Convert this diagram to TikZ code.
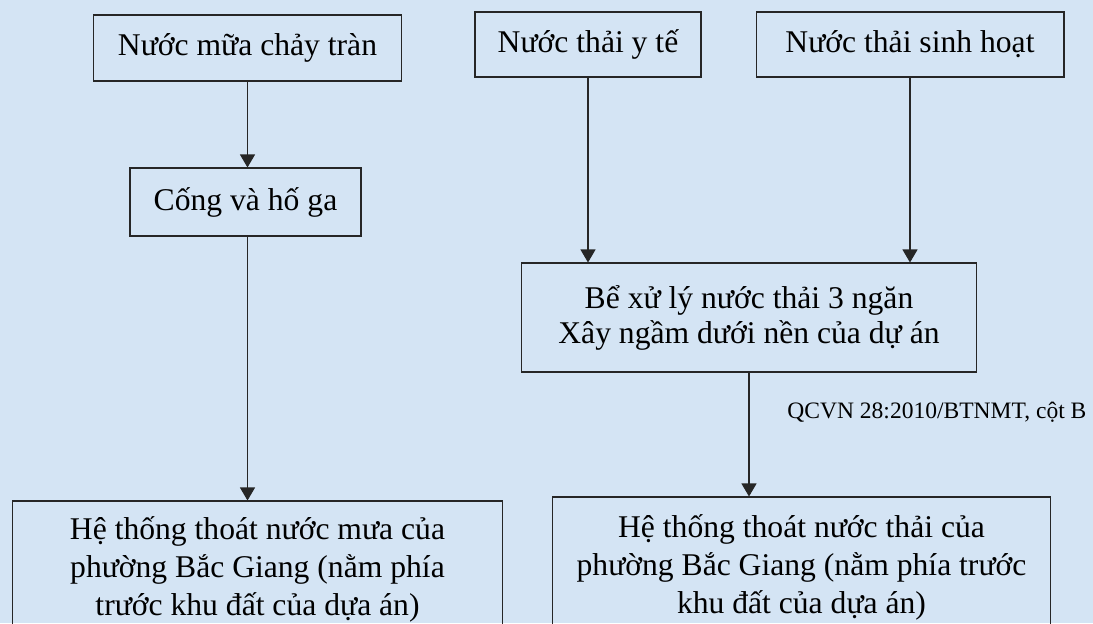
\documentclass[tikz,border=0pt]{standalone}
\usepackage{fontspec}
\setmainfont{Liberation Serif}
\usepackage{tikz}
\usetikzlibrary{arrows.meta}
\definecolor{paleblue}{RGB}{212,228,244}

\begin{document}
\begin{tikzpicture}[x=0.02cm, y=-0.02cm,
    every node/.style={font=\fontsize{18}{22}\selectfont},
    box/.style={draw=black!85, line width=0.6pt, align=center, inner sep=0pt},
    flow/.style={draw=black!85, line width=0.6pt, -{Triangle[width=0.3cm,length=0.26cm]}}]

                % Background
                \useasboundingbox (0,0) rectangle (1093,623);
                \fill[paleblue] (0,0) rectangle (1093,623);
                \clip (0,0) rectangle (1093,623);

                % Nodes
                \node at (247.5,48) (rain) [box, minimum width=6.18cm, minimum height=1.32cm] {Nước mữa chảy tràn};
                \node at (245.5,202) (cong) [box, minimum width=4.62cm, minimum height=1.36cm] {Cống và hố ga};
                \node at (588,44.5) (yte) [box, minimum width=4.52cm, minimum height=1.3cm] {Nước thải y tế};
                \node at (910,44.5) (sinhhoat) [box, minimum width=6.16cm, minimum height=1.3cm] {Nước thải sinh hoạt};
                \node at (749,317.5) (be) [box, minimum width=9.12cm, minimum height=2.18cm,
                    font=\fontsize{18}{19.9}\selectfont] {Bể xử lý nước thải 3 ngăn\\Xây ngầm dưới nền của dự án};
                \node at (257.5,569) (mua) [box, minimum width=9.82cm, minimum height=2.72cm,
                    font=\fontsize{18}{21.6}\selectfont] {Hệ thống thoát nước mưa của\\phường Bắc Giang (nằm phía\\trước khu đất của dựa án)};
                \node at (801.5,567) (thai) [box, minimum width=9.98cm, minimum height=2.8cm,
                    font=\fontsize{18}{21.6}\selectfont] {Hệ thống thoát nước thải của\\phường Bắc Giang (nằm phía trước\\khu đất của dựa án)};
                \node at (787,418) (qcvn) [anchor=base west, inner sep=0pt, font=\fontsize{13.4}{16}\selectfont] {QCVN 28:2010/BTNMT, cột B};

                % Arrows
                \draw[flow] (rain.south) -- (rain.south |- cong.north);
                \draw[flow] (rain.south |- cong.south) -- (rain.south |- mua.north);
                \draw[flow] (yte) -- (yte |- be.north);
                \draw[flow] (sinhhoat) -- (sinhhoat |- be.north);
                \draw[flow] (be.south) -- (be.south |- thai.north);

\end{tikzpicture}
\end{document}
